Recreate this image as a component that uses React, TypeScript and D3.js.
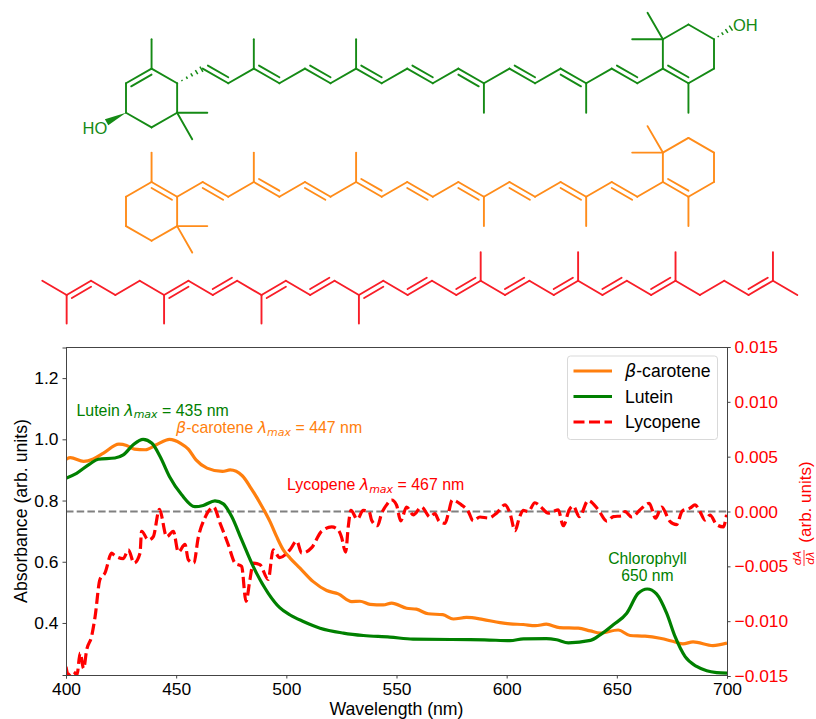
import React, { useEffect, useRef } from "react";
import * as d3 from "d3";

const WIDTH = 816, HEIGHT = 719;
const FONT = "'Liberation Sans', Arial, sans-serif";
const MATH = "'DejaVu Sans', sans-serif";
const margin = { top: 347.5, right: 89, bottom: 44, left: 66 };

const GREEN = "#008000", ORANGE = "#ff7f0e", RED = "#ff0000";
const MOL_GREEN = "#158a15", MOL_ORANGE = "#ff8c1a", MOL_RED = "#f81e28";

// spectra
const caroteneWl = [400, 402, 408, 412.4, 417, 424, 427.5, 431, 436, 441, 447, 452, 455.5, 459, 464, 471, 474.5, 480, 484, 489, 492.6, 495.6, 498.6, 501.7, 506.2, 512.2, 518.3, 523.6, 529.7, 533.4, 538, 544, 547.8, 554.6, 559, 564.4, 571, 575.8, 581.8, 589, 597, 601.5, 607.5, 613, 618, 624, 632.5, 638, 642.4, 650.6, 656, 662.8, 669.6, 676.4, 680, 684.6, 693.6, 700];
const caroteneAbs = [0.935, 0.94, 0.928, 0.936, 0.955, 0.984, 0.98, 0.968, 0.966, 0.982, 1.0, 0.987, 0.968, 0.933, 0.906, 0.895, 0.9, 0.881, 0.84, 0.78, 0.731, 0.682, 0.639, 0.612, 0.579, 0.535, 0.506, 0.495, 0.47, 0.471, 0.461, 0.459, 0.465, 0.448, 0.445, 0.43, 0.427, 0.413, 0.418, 0.412, 0.401, 0.397, 0.395, 0.391, 0.396, 0.385, 0.383, 0.374, 0.367, 0.377, 0.359, 0.357, 0.35, 0.338, 0.332, 0.338, 0.326, 0.334];

const luteinWl = [400, 404.8, 410.9, 414.7, 422.2, 426, 430.5, 435, 439, 442.7, 447, 452.5, 458.5, 462.3, 467.6, 471.4, 475.2, 479.7, 485, 491.8, 497, 501.7, 507.7, 515.3, 525.9, 535, 547, 557.5, 575, 590, 601.5, 607.6, 618, 622.7, 628, 638, 642.4, 648.4, 654.5, 659.7, 663.8, 668, 672.6, 676.4, 681, 686.2, 690.8, 695.3, 700];
const luteinAbs = [0.873, 0.889, 0.92, 0.935, 0.939, 0.949, 0.982, 1.0, 0.987, 0.944, 0.878, 0.819, 0.78, 0.784, 0.799, 0.789, 0.748, 0.672, 0.584, 0.497, 0.45, 0.426, 0.405, 0.383, 0.367, 0.359, 0.354, 0.347, 0.346, 0.345, 0.342, 0.348, 0.349, 0.345, 0.335, 0.343, 0.361, 0.394, 0.432, 0.497, 0.511, 0.495, 0.432, 0.356, 0.29, 0.258, 0.244, 0.238, 0.236];

const lycopeneWl = [400, 401, 403.3, 405, 406.4, 408, 409.4, 411.6, 413.2, 415.4, 417.7, 420.7, 422, 426, 428.3, 430.9, 433.6, 434.3, 437.4, 439.6, 442.4, 445.7, 448.7, 451, 454, 455.5, 458, 460, 463, 467, 470, 473.7, 476.7, 479.7, 481.7, 483.5, 485, 488, 491.8, 494, 497, 501.6, 504.7, 507, 511.5, 516, 520.6, 523.6, 525, 526.9, 528.1, 529.3, 532.2, 534.9, 537.6, 538.7, 541.4, 543.2, 545.5, 547.8, 550, 551.9, 554.6, 557.6, 561.4, 565.2, 567.4, 569.4, 572, 573.5, 575.3, 579.5, 582.6, 584.8, 587.9, 591.7, 595.4, 599.2, 601.5, 603.8, 605.7, 607.5, 609.8, 612.8, 615.1, 618.9, 621.2, 623.4, 625.7, 628.4, 630.2, 633, 637, 641.6, 645.4, 648.4, 652.2, 653.7, 656.7, 661.3, 664.7, 667.6, 670.3, 674.1, 677.1, 679.7, 683.2, 685.5, 687.7, 690, 692.3, 695.3, 698.3, 699.8];
const lycopeneDeriv = [-14.15, -14.9, -14.6, -14.9, -12.9, -14.3, -12.6, -11.4, -9.6, -6.2, -5.6, -3.8, -4.0, -4.3, -3.5, -4.7, -3.8, -1.8, -2.6, -2.3, 0.2, -2.3, -1.8, -3.7, -3.0, -4.4, -4.7, -2.4, -0.6, 0.4, -1.1, -3.05, -4.7, -5.0, -8.2, -6.2, -4.7, -4.85, -6.2, -3.5, -4.2, -3.5, -2.7, -3.8, -3.3, -1.8, -1.4, -1.7, -2.3, -3.7, -1.4, 0.1, -0.7, 0.1, 0, -0.8, -1.3, -0.2, 0.6, 1.05, 0.6, -0.85, 0.4, -0.3, 0.4, -0.5, -0.2, -0.9, -1.08, -0.2, 1.05, 0.6, 0, -0.85, -0.5, -0.6, -0.15, 0.6, -0.15, -1.75, -0.6, 0.1, 0, 0.8, 0.5, -0.15, 0, 0.15, -1.3, 0.15, 0.5, -0.47, 1.0, 0.15, -0.87, -0.47, -0.4, 0, -0.5, 0.3, 0.75, -0.6, 0.4, -0.9, -1.2, 0.05, 0.3, 0.6, 0, -0.78, -0.33, -1.2, -1.4, -0.3].map((d) => d / 1000);

const xTicks = [400, 450, 500, 550, 600, 650, 700];
const absTicks = [0.4, 0.6, 0.8, 1.0, 1.2];
const derivTicks = [-0.015, -0.01, -0.005, 0, 0.005, 0.01, 0.015];

// molecules on a hexagon lattice: [col, row, col, row]
const ringLeftLutein = [[1, -1, 2, 0], [2, 0, 2, 2], [2, 2, 1, 3], [1, 3, 0, 2], [0, 2, 0, 0], [1, -1, 1, -3], [2, 2, 3.18, 2], [2, 2, 2.59, 3.8]];
const ringLeftCarotene = [[0, 0, 1, -1], [2, 0, 2, 2], [2, 2, 1, 3], [1, 3, 0, 2], [0, 2, 0, 0], [1, -1, 1, -3], [2, 2, 3.18, 2], [2, 2, 2.59, 3.8], [2, 0, 3, -1]];
const chainSingles = [[4, 0, 5, -1], [6, 0, 7, -1], [8, 0, 9, -1], [10, 0, 11, -1], [12, 0, 13, -1], [14, 0, 15, -1], [16, 0, 17, -1], [18, 0, 19, -1], [20, 0, 21, -1], [5, -1, 5, -3], [9, -1, 9, -3], [14, 0, 14, 2], [18, 0, 18, 2]];
const ringRight = [[21, -1, 21, -3], [21, -3, 22, -4], [22, -4, 23, -3], [23, -3, 23, -1], [23, -1, 22, 0], [22, 0, 22, 2], [21, -3, 20.4, -4.8], [21, -3, 19.8, -3]];
// doubles: [col, row, col, row, side], side -1 puts the second line above, +1 below
const luteinDoubles = [[0, 0, 1, -1, 1], [3, -1, 4, 0, -1], [5, -1, 6, 0, -1], [7, -1, 8, 0, -1], [9, -1, 10, 0, -1], [11, -1, 12, 0, -1], [13, -1, 14, 0, 1], [15, -1, 16, 0, -1], [17, -1, 18, 0, 1], [19, -1, 20, 0, -1], [21, -1, 22, 0, -1]];
const caroteneDoubles = [[1, -1, 2, 0, 1], [3, -1, 4, 0, 1], [5, -1, 6, 0, -1], [7, -1, 8, 0, 1], [9, -1, 10, 0, -1], [11, -1, 12, 0, 1], [13, -1, 14, 0, 1], [15, -1, 16, 0, 1], [17, -1, 18, 0, 1], [19, -1, 20, 0, 1], [21, -1, 22, 0, -1]];

const lycopeneSingles = [[0, 0, 1, 1], [2, 0, 3, 1], [3, 1, 4, 0], [4, 0, 5, 1], [6, 0, 7, 1], [8, 0, 9, 1], [10, 0, 11, 1], [12, 0, 13, 1], [14, 0, 15, 1], [16, 0, 17, 1], [18, 0, 19, 1], [20, 0, 21, 1], [22, 0, 23, 1], [24, 0, 25, 1], [26, 0, 27, 1], [27, 1, 28, 0], [28, 0, 29, 1], [30, 0, 31, 1], [1, 1, 1, 3], [5, 1, 5, 3], [9, 1, 9, 3], [13, 1, 13, 3], [18, 0, 18, -2], [22, 0, 22, -2], [26, 0, 26, -2], [30, 0, 30, -2]];
const lycopeneDoubles = [[1, 1, 2, 0, 1], [5, 1, 6, 0, 1], [7, 1, 8, 0, -1], [9, 1, 10, 0, 1], [11, 1, 12, 0, -1], [13, 1, 14, 0, 1], [15, 1, 16, 0, -1], [17, 1, 18, 0, -1], [19, 1, 20, 0, -1], [21, 1, 22, 0, -1], [23, 1, 24, 0, -1], [25, 1, 26, 0, -1], [29, 1, 30, 0, -1]];

const legendEntries = [
  { label: "-carotene", greek: "β", color: ORANGE, dash: null },
  { label: "Lutein", greek: "", color: GREEN, dash: null },
  { label: "Lycopene", greek: "", color: RED, dash: "11 4.5" },
];

const App = () => {
  const ref = useRef<SVGSVGElement>(null);

  useEffect(() => {
    const svg = d3.select(ref.current);
    svg.selectAll("*").remove();

    // Molecules
    const latticeX = d3.scaleLinear().domain([0, 23]).range([126, 714]);
    const rowLutein = d3.scaleLinear().domain([-3, 2]).range([39.2, 112.7]);
    const rowCarotene = d3.scaleLinear().domain([-3, 2]).range([152.6, 226.1]);
    const lycX = d3.scaleLinear().domain([0, 31]).range([42.3, 797.3]);
    const lycY = d3.scaleLinear().domain([0, 1]).range([280.7, 295]);

    const drawBonds = (singles, doubles, sx, sy, color) => {
      const g = svg.append("g").attr("stroke", color).attr("stroke-width", 1.9).attr("fill", "none").attr("stroke-linecap", "round");
      singles.concat(doubles).forEach((b) => {
        g.append("line").attr("x1", sx(b[0])).attr("y1", sy(b[1])).attr("x2", sx(b[2])).attr("y2", sy(b[3]));
      });
      doubles.forEach((b) => {
        const x1 = sx(b[0]), y1 = sy(b[1]), x2 = sx(b[2]), y2 = sy(b[3]);
        const len = Math.hypot(x2 - x1, y2 - y1);
        const ux = (x2 - x1) / len, uy = (y2 - y1) / len;
        let nx = -uy, ny = ux;
        if (ny * b[4] < 0) { nx = -nx; ny = -ny; }
        const off = 5.2, cut = 3;
        g.append("line")
          .attr("x1", x1 + nx * off + ux * cut).attr("y1", y1 + ny * off + uy * cut)
          .attr("x2", x2 + nx * off - ux * cut).attr("y2", y2 + ny * off - uy * cut);
      });
    };

    drawBonds(ringLeftLutein.concat(chainSingles, ringRight), luteinDoubles, latticeX, rowLutein, MOL_GREEN);
    drawBonds(ringLeftCarotene.concat(chainSingles, ringRight), caroteneDoubles, latticeX, rowCarotene, MOL_ORANGE);
    drawBonds(lycopeneSingles, lycopeneDoubles, lycX, lycY, MOL_RED);

    // stereo bonds of lutein
    const hashBond = (c1, r1, c2, r2, n, maxW) => {
      const x1 = latticeX(c1), y1 = rowLutein(r1), x2 = latticeX(c2), y2 = rowLutein(r2);
      const len = Math.hypot(x2 - x1, y2 - y1);
      const nx = -(y2 - y1) / len, ny = (x2 - x1) / len;
      d3.range(1, n + 1).forEach((i) => {
        const t = i / n, w = maxW * t / 2;
        const px = x1 + (x2 - x1) * t, py = y1 + (y2 - y1) * t;
        svg.append("line").attr("x1", px - nx * w).attr("y1", py - ny * w).attr("x2", px + nx * w).attr("y2", py + ny * w)
          .attr("stroke", MOL_GREEN).attr("stroke-width", 1.5);
      });
    };
    hashBond(2, 0, 2.95, -0.95, 5, 6);
    hashBond(23, -3, 23.66, -3.75, 4, 6);
    svg.append("path")
      .attr("d", `M${latticeX(0)},${rowLutein(2)}L${latticeX(-0.76) + 1.7},${rowLutein(2.65) + 3}L${latticeX(-0.76) - 1.7},${rowLutein(2.65) - 3}Z`)
      .attr("fill", MOL_GREEN);

    svg.append("text").attr("x", 82.5).attr("y", 134).text("HO").attr("fill", MOL_GREEN).attr("font-family", FONT).attr("font-size", 16.5);
    svg.append("text").attr("x", 733).attr("y", 31).text("OH").attr("fill", MOL_GREEN).attr("font-family", FONT).attr("font-size", 16.5);

    // Scales
    const x = d3.scaleLinear().domain([400, 700]).range([margin.left, WIDTH - margin.right]);
    const yAbs = d3.scaleLinear().domain([0.23, 1.3]).range([HEIGHT - margin.bottom, margin.top]);
    const yDeriv = d3.scaleLinear().domain([-0.015, 0.015]).range([HEIGHT - margin.bottom + 1, margin.top - 0.5]);

    svg.append("defs").append("clipPath").attr("id", "plot-clip")
      .append("rect").attr("x", margin.left).attr("y", margin.top).attr("width", x(700) - x(400)).attr("height", yAbs(0.23) - yAbs(1.3));

    const plot = svg.append("g").attr("clip-path", "url(#plot-clip)");

    // Zero line
    plot.append("line")
      .attr("x1", x(400)).attr("x2", x(700)).attr("y1", yDeriv(0)).attr("y2", yDeriv(0))
      .attr("stroke", "#808080").attr("stroke-width", 2).attr("stroke-dasharray", "7.5 3.2");

    // Curves
    const line = d3.line<number>()
      .x((d, i) => x(d))
      .curve(d3.curveMonotoneX);

    plot.append("path").attr("d", line.y((d, i) => yAbs(caroteneAbs[i]))(caroteneWl))
      .attr("fill", "none").attr("stroke", ORANGE).attr("stroke-width", 3.2);
    plot.append("path").attr("d", line.y((d, i) => yDeriv(lycopeneDeriv[i]))(lycopeneWl))
      .attr("fill", "none").attr("stroke", RED).attr("stroke-width", 3.2).attr("stroke-dasharray", "11 4.5");
    plot.append("path").attr("d", line.y((d, i) => yAbs(luteinAbs[i]))(luteinWl))
      .attr("fill", "none").attr("stroke", GREEN).attr("stroke-width", 3.2);

    // Axes
    const styleAxis = (g, color) => {
      g.selectAll("path").attr("stroke", "#444").attr("stroke-width", 1);
      g.selectAll("line").attr("stroke", "#444").attr("stroke-width", 1);
      g.selectAll("text").attr("fill", color).attr("font-family", FONT).attr("font-size", 17.4);
    };
    svg.append("g").attr("transform", `translate(0,${HEIGHT - margin.bottom})`)
      .call(d3.axisBottom(x).tickValues(xTicks).tickSize(3.5).tickPadding(4).tickFormat(d3.format("d")))
      .call(styleAxis, "#000");
    svg.append("g").attr("transform", `translate(${margin.left},0)`)
      .call(d3.axisLeft(yAbs).tickValues(absTicks).tickSize(3.5).tickPadding(4).tickFormat(d3.format(".1f")))
      .call(styleAxis, "#000");
    svg.append("g").attr("transform", `translate(${WIDTH - margin.right},0)`)
      .call(d3.axisRight(yDeriv).tickValues(derivTicks).tickSize(3.5).tickPadding(4).tickFormat(d3.format(".3f")))
      .call(styleAxis, RED);
    svg.append("line").attr("x1", margin.left).attr("x2", WIDTH - margin.right).attr("y1", margin.top).attr("y2", margin.top)
      .attr("stroke", "#444");

    // Axis titles
    const label = (parent, tx, ty, txt, size, color, anchor = "start") =>
      parent.append("text").attr("x", tx).attr("y", ty).text(txt)
        .attr("font-family", FONT).attr("font-size", size).attr("fill", color).attr("text-anchor", anchor);

    label(svg, 396.5, 715, "Wavelength (nm)", 17.7, "#000", "middle");
    const leftTitle = svg.append("g").attr("transform", "translate(27,511) rotate(-90)");
    label(leftTitle, 0, 0, "Absorbance (arb. units)", 17.7, "#000", "middle");
    const rightTitle = svg.append("g").attr("transform", "translate(811,502) rotate(-90)");
    label(rightTitle, 0, 0, "(arb. units)", 17, RED, "middle");
    const frac = svg.append("g").attr("transform", "translate(804,558) rotate(-90)");
    const fracText = (ty, txt) => frac.append("text").attr("y", ty).attr("text-anchor", "middle")
      .attr("font-family", MATH).attr("font-style", "italic").attr("font-size", 11).attr("fill", RED).text(txt);
    fracText(-3, "dA");
    fracText(10, "dλ");
    frac.append("line").attr("x1", -8).attr("x2", 8).attr("stroke", RED).attr("stroke-width", 0.8);

    // Peak annotations
    const lambdaMax = (tx, ty, head, greek, tail, color) => {
      const t = svg.append("text").attr("x", tx).attr("y", ty).attr("font-family", FONT).attr("font-size", 15.9).attr("fill", color);
      if (greek) t.append("tspan").attr("font-family", MATH).attr("font-style", "italic").text(greek);
      t.append("tspan").text(head + " ");
      t.append("tspan").attr("font-family", MATH).attr("font-style", "italic").text("λ");
      t.append("tspan").attr("font-family", MATH).attr("font-style", "italic").attr("font-size", 11).attr("dy", 2.5).text("max");
      t.append("tspan").attr("dy", -2.5).text(" = " + tail);
    };
    lambdaMax(76.5, 415.5, "Lutein", "", "435 nm", GREEN);
    lambdaMax(176, 433, "-carotene", "β", "447 nm", ORANGE);
    lambdaMax(287, 490, "Lycopene", "", "467 nm", RED);
    label(svg, 647.5, 564, "Chlorophyll", 15.7, GREEN, "middle");
    label(svg, 647.5, 581, "650 nm", 15.7, GREEN, "middle");

    // Legend
    svg.append("rect").attr("x", 567.5).attr("y", 356).attr("width", 150).attr("height", 83.5).attr("rx", 3)
      .attr("fill", "#fff").attr("fill-opacity", 0.8).attr("stroke", "#d9d9d9");
    const legendY = d3.scalePoint<number>().domain([0, 1, 2]).range([371, 422]);
    legendEntries.forEach((e, i) => {
      svg.append("line").attr("x1", 573.5).attr("x2", 612).attr("y1", legendY(i)).attr("y2", legendY(i))
        .attr("stroke", e.color).attr("stroke-width", 3.2).attr("stroke-dasharray", e.dash);
      const t = svg.append("text").attr("x", 625).attr("y", legendY(i) + 6).attr("font-family", FONT).attr("font-size", 17.6).attr("fill", "#000");
      if (e.greek) t.append("tspan").attr("font-family", MATH).attr("font-style", "italic").text(e.greek);
      t.append("tspan").text(e.label);
    });
  }, []);

  return (
    <svg ref={ref} width={WIDTH} height={HEIGHT} style={{ position: "absolute", left: 0, top: 0, display: "block" }} />
  );
};

export default App;
